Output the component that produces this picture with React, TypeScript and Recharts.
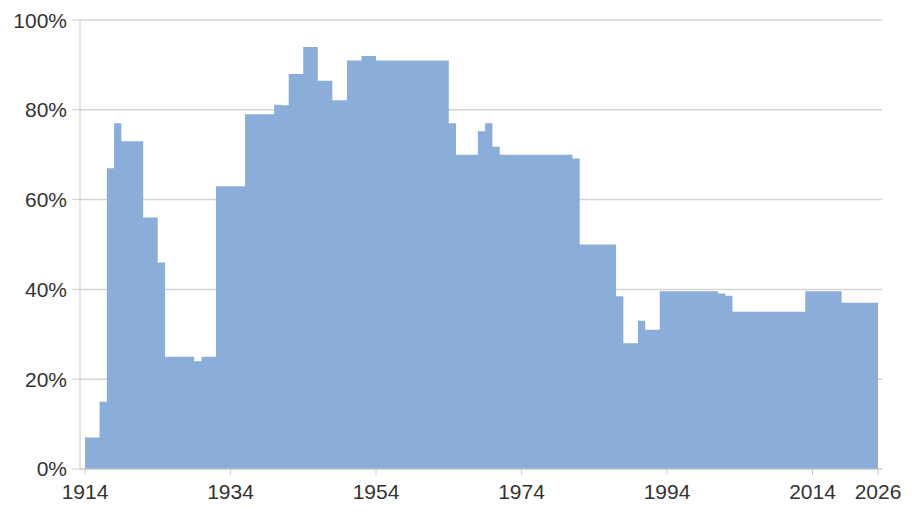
import { AreaChart, Area, XAxis, YAxis, CartesianGrid } from 'recharts';

// top marginal rate (%) per year, each value holds until the next year
const years = [
  1914, 1915, 1916, 1917, 1918, 1919, 1920, 1921, 1922, 1923,
  1924, 1925, 1926, 1927, 1928, 1929, 1930, 1931, 1932, 1933,
  1934, 1935, 1936, 1937, 1938, 1939, 1940, 1941, 1942, 1943,
  1944, 1945, 1946, 1947, 1948, 1949, 1950, 1951, 1952, 1953,
  1954, 1955, 1956, 1957, 1958, 1959, 1960, 1961, 1962, 1963,
  1964, 1965, 1966, 1967, 1968, 1969, 1970, 1971, 1972, 1973,
  1974, 1975, 1976, 1977, 1978, 1979, 1980, 1981, 1982, 1983,
  1984, 1985, 1986, 1987, 1988, 1989, 1990, 1991, 1992, 1993,
  1994, 1995, 1996, 1997, 1998, 1999, 2000, 2001, 2002, 2003,
  2004, 2005, 2006, 2007, 2008, 2009, 2010, 2011, 2012, 2013,
  2014, 2015, 2016, 2017, 2018, 2019, 2020, 2021, 2022, 2023,
];

const topRate = [
  7, 7, 15, 67, 77, 73, 73, 73, 56, 56,
  46, 25, 25, 25, 25, 24, 25, 25, 63, 63,
  63, 63, 79, 79, 79, 79, 81.1, 81, 88, 88,
  94, 94, 86.45, 86.45, 82.13, 82.13, 91, 91, 92, 92,
  91, 91, 91, 91, 91, 91, 91, 91, 91, 91,
  77, 70, 70, 70, 75.25, 77, 71.75, 70, 70, 70,
  70, 70, 70, 70, 70, 70, 70, 69.13, 50, 50,
  50, 50, 50, 38.5, 28, 28, 33, 31, 31, 39.6,
  39.6, 39.6, 39.6, 39.6, 39.6, 39.6, 39.6, 39.1, 38.6, 35,
  35, 35, 35, 35, 35, 35, 35, 35, 35, 39.6,
  39.6, 39.6, 39.6, 39.6, 37, 37, 37, 37, 37, 37,
];

const xTicks = [1914, 1934, 1954, 1974, 1994, 2014, 2023];
const xTickLabels = ['1914', '1934', '1954', '1974', '1994', '2014', '2026'];
const yTicks = [0, 20, 40, 60, 80, 100];

const data = years.map((year, i) => ({ year, rate: topRate[i] }));

const tickStyle = { fontFamily: 'Liberation Sans, Arial, sans-serif', fontSize: 21, fill: '#333333' };

export default function App() {
  return (
    <AreaChart
      width={904}
      height={504}
      data={data}
      margin={{ top: 12, right: 30, left: 0, bottom: 3 }}
    >
      <CartesianGrid vertical={false} stroke="#d4d4d4" strokeWidth={1.5} />
      <XAxis
        dataKey="year"
        type="number"
        domain={[1914, 2023]}
        ticks={xTicks}
        interval={0}
        tickFormatter={(v: number) => xTickLabels[xTicks.indexOf(v)]}
        padding={{ left: 5, right: 4 }}
        height={40}
        tick={tickStyle}
        tickSize={6}
        tickMargin={9}
        stroke="#cccccc"
      />
      <YAxis
        domain={[0, 100]}
        ticks={yTicks}
        tickFormatter={(v: number) => `${v}%`}
        width={72}
        tick={tickStyle}
        tickSize={8}
        tickMargin={5}
        stroke="#cccccc"
      />
      <Area
        type="stepAfter"
        dataKey="rate"
        fill="#8badd9"
        fillOpacity={1}
        stroke="none"
        isAnimationActive={false}
      />
    </AreaChart>
  );
}
